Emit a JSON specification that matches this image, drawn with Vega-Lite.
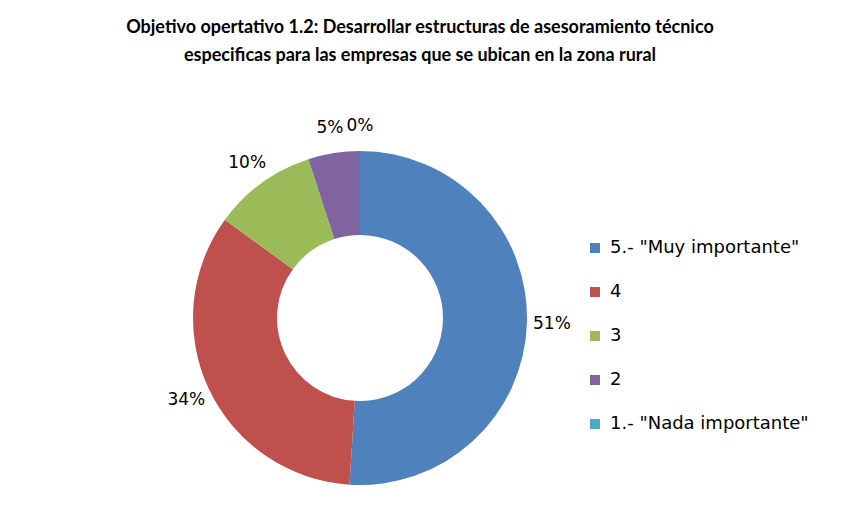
{
  "$schema": "https://vega.github.io/schema/vega-lite/v6.json",
  "width": 720,
  "height": 400,
  "autosize": {"type": "none"},
  "padding": {"left": 0, "top": 118, "right": 134, "bottom": 9},
  "background": "white",
  "title": {
    "text": ["Objetivo opertativo 1.2: Desarrollar estructuras de asesoramiento técnico", "especificas para las empresas que se ubican en la zona rural"],
    "anchor": "middle",
    "dx": 60,
    "offset": 52,
    "font": "Lato",
    "fontSize": 18,
    "fontWeight": "bold",
    "lineHeight": 28,
    "color": "#000000"
  },
  "data": {
    "values": [
      {"categoria": "5.- \"Muy importante\"", "orden": 1, "valor": 51, "etiqueta": "51%"},
      {"categoria": "4", "orden": 2, "valor": 34, "etiqueta": "34%"},
      {"categoria": "3", "orden": 3, "valor": 10, "etiqueta": "10%"},
      {"categoria": "2", "orden": 4, "valor": 5, "etiqueta": "5%"},
      {"categoria": "1.- \"Nada importante\"", "orden": 5, "valor": 0, "etiqueta": "0%"}
    ]
  },
  "encoding": {
    "theta": {"field": "valor", "type": "quantitative", "stack": true},
    "order": {"field": "orden", "type": "quantitative"}
  },
  "layer": [
    {
      "mark": {"type": "arc", "outerRadius": 167, "innerRadius": 83},
      "encoding": {
        "color": {
          "field": "categoria",
          "type": "nominal",
          "sort": ["5.- \"Muy importante\"", "4", "3", "2", "1.- \"Nada importante\""],
          "scale": {
            "domain": ["5.- \"Muy importante\"", "4", "3", "2", "1.- \"Nada importante\""],
            "range": ["#4F81BD", "#C0504D", "#9BBB59", "#8064A2", "#4BACC6"]
          },
          "legend": {
            "title": null,
            "orient": "none",
            "legendX": 586,
            "legendY": 121,
            "symbolType": "square",
            "symbolSize": 100,
            "symbolStrokeWidth": 0,
            "labelFont": "DejaVu Sans",
            "labelFontSize": 18,
            "labelColor": "#000000",
            "labelOffset": 6,
            "labelLimit": 400,
            "rowPadding": 26
          }
        }
      }
    },
    {
      "mark": {"type": "text", "radius": 192, "font": "DejaVu Sans", "fontSize": 17, "color": "#000000"},
      "encoding": {
        "text": {"field": "etiqueta", "type": "nominal"}
      }
    }
  ],
  "config": {
    "view": {"stroke": null}
  }
}
